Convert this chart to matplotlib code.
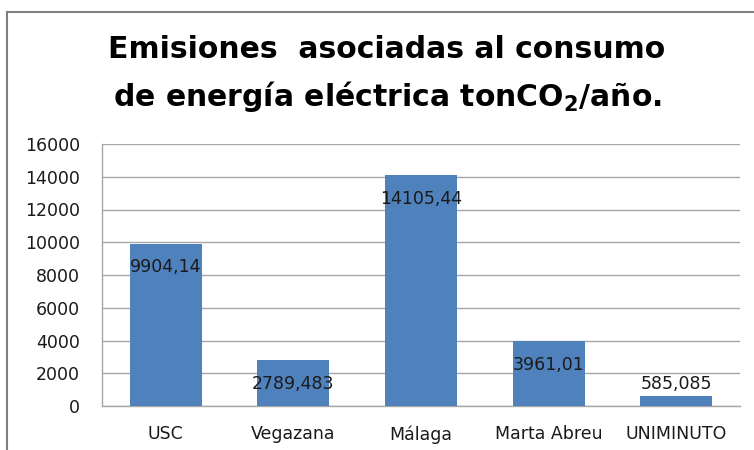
import matplotlib
matplotlib.use("Agg")
import matplotlib.pyplot as plt
from matplotlib.lines import Line2D

categories = ["USC", "Vegazana", "Málaga", "Marta Abreu", "UNIMINUTO"]
values = [9904.14, 2789.483, 14105.44, 3961.01, 585.085]
value_labels = ["9904,14", "2789,483", "14105,44", "3961,01", "585,085"]
yticks = [0, 2000, 4000, 6000, 8000, 10000, 12000, 14000, 16000]

plt.rcParams['font.family'] = ['DejaVu Sans']
plt.rcParams['mathtext.fontset'] = 'dejavusans'

W, H = 754, 450
fig = plt.figure(figsize=(W / 100, H / 100), dpi=100)
ax = fig.add_axes([102 / W, 1 - 406 / H, (740 - 102) / W, (406 - 144) / H])

bar_color = "#4F81BD"
x = range(len(categories))
bars = ax.bar(x, values, width=0.565, color=bar_color, zorder=3)

ax.set_xlim(-0.5, len(categories) - 0.5)
ax.set_ylim(0, 16000)
ax.set_yticks(yticks)
ax.set_yticklabels([str(t) for t in yticks])
ax.set_xticks(list(x))
ax.set_xticklabels(categories)
ax.tick_params(axis='both', length=0, labelsize=12.5, colors="#1a1a1a")
ax.tick_params(axis='y', pad=16)
ax.tick_params(axis='x', pad=14)
ax.grid(axis='y', color="#A6A6A6", linewidth=1, zorder=0)
for s in ["top", "right"]:
    ax.spines[s].set_visible(False)
for s in ["left", "bottom"]:
    ax.spines[s].set_color("#A6A6A6")
    ax.spines[s].set_linewidth(1)

for i, (v, lab) in enumerate(zip(values, value_labels)):
    if v > 1500:
        ax.annotate(lab, (i, v), xytext=(0, -17), textcoords="offset points",
                    ha="center", va="center", fontsize=12.5, color="#1a1a1a", zorder=4)
    else:
        ax.annotate(lab, (i, v), xytext=(0, 9), textcoords="offset points",
                    ha="center", va="center", fontsize=12.5, color="#1a1a1a", zorder=4)

fig.text(387 / W, 1 - 50 / H, "Emisiones  asociadas al consumo", ha="center", va="center",
         fontsize=21.5, fontweight="bold", color="#000000")
fig.text(387 / W, 1 - 97 / H, r"de energía eléctrica tonCO$_\mathbf{2}$/año.", ha="center", va="center",
         fontsize=21.5, fontweight="bold", color="#000000")

fig.add_artist(Line2D([7 / W, 7 / W], [0, 1 - 12 / H], transform=fig.transFigure, color="#808080", linewidth=1.5))
fig.add_artist(Line2D([7 / W, 1], [1 - 12 / H, 1 - 12 / H], transform=fig.transFigure, color="#808080", linewidth=1.5))

fig.savefig("out.png", dpi=100)
